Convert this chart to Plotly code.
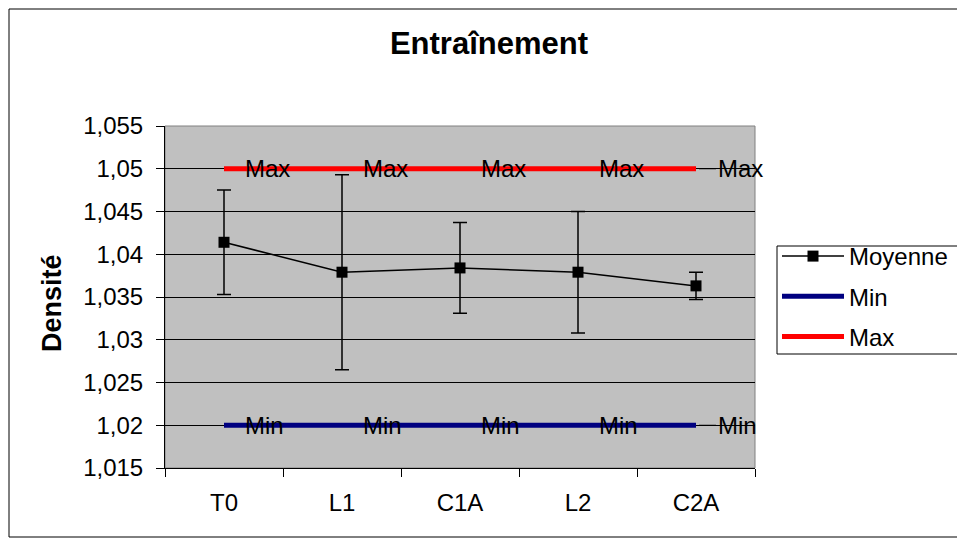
import plotly.graph_objects as go

# Données
categories = ["T0", "L1", "C1A", "L2", "C2A"]
moyenne = [1.0414, 1.0379, 1.0384, 1.0379, 1.0363]
ecart = [0.0061, 0.0114, 0.0053, 0.0071, 0.0016]
min_vals = [1.02, 1.02, 1.02, 1.02, 1.02]
max_vals = [1.05, 1.05, 1.05, 1.05, 1.05]
ytick_vals = [1.015, 1.02, 1.025, 1.03, 1.035, 1.04, 1.045, 1.05, 1.055]
ytick_text = ["1,015", "1,02", "1,025", "1,03", "1,035", "1,04", "1,045", "1,05", "1,055"]

FONT = "Liberation Sans, Arial, sans-serif"
TXT = 24
W, H = 957, 547
L, R, T, B = 165, 202, 126, 79
PW, PH = W - L - R, H - T - B


def px_x(px):
    return (px - L) / PW


def px_y(py):
    return (H - B - py) / PH


fig = go.Figure()

fig.add_trace(go.Scatter(
    x=categories, y=moyenne, name="Moyenne", mode="lines+markers",
    line=dict(color="black", width=1.5),
    marker=dict(symbol="square", size=11, color="black"),
    error_y=dict(type="data", array=ecart, visible=True,
                 color="black", thickness=1.5, width=7),
    legendgroup="a",
))
fig.add_trace(go.Scatter(
    x=categories, y=min_vals, name="Min", mode="lines",
    line=dict(color="#000080", width=5), legendgroup="b",
))
fig.add_trace(go.Scatter(
    x=categories, y=max_vals, name="Max", mode="lines",
    line=dict(color="#FF0000", width=5), legendgroup="c",
))

annotations = []
for label, vals in (("Min", min_vals), ("Max", max_vals)):
    for i, (c, v) in enumerate(zip(categories, vals)):
        last = i == len(categories) - 1
        annotations.append(dict(
            x=c, y=v, xref="x", yref="y", text=label,
            xanchor="left", yanchor="middle",
            showarrow=last, arrowhead=0, arrowwidth=1, arrowcolor="black",
            ax=20 if last else 0, ay=0, standoff=3,
            xshift=0 if last else 19,
            font=dict(family=FONT, size=TXT, color="black"),
        ))

annotations.append(dict(
    x=px_x(52), y=px_y(303), xref="paper", yref="paper", text="<b>Densité</b>",
    textangle=-90, showarrow=False, xanchor="center", yanchor="middle",
    font=dict(family=FONT, size=27, color="black"),
))

shapes = [
    # cadre du graphique
    dict(type="rect", xref="paper", yref="paper",
         x0=px_x(9), x1=px_x(990), y0=px_y(537), y1=px_y(9),
         line=dict(color="black", width=1), layer="below"),
    # bordure de la zone de tracé
    dict(type="rect", xref="paper", yref="paper", x0=0, x1=1, y0=0, y1=1,
         line=dict(color="#808080", width=1), layer="below"),
    # cadre de la légende (se prolonge au-delà du bord droit)
    dict(type="rect", xref="paper", yref="paper",
         x0=px_x(777), x1=px_x(1000), y0=px_y(354), y1=px_y(246),
         line=dict(color="black", width=1), fillcolor="white", layer="above"),
]

fig.update_layout(
    width=W, height=H,
    margin=dict(l=L, r=R, t=T, b=B, autoexpand=False),
    paper_bgcolor="white", plot_bgcolor="#C0C0C0",
    separators=", ",
    font=dict(family=FONT, size=TXT, color="black"),
    title=dict(text="<b>Entraînement</b>", x=489 / W, y=1 - 43 / H,
               xanchor="center", yanchor="middle", xref="container", yref="container",
               font=dict(family=FONT, size=31, color="black")),
    xaxis=dict(type="category", tickson="boundaries", ticks="outside",
               ticklen=8, tickcolor="black", showline=True, linecolor="black",
               showgrid=False, ticklabelstandoff=13, range=[-0.5, 4.5],
               tickfont=dict(family=FONT, size=TXT)),
    yaxis=dict(range=[1.015, 1.055], tickvals=ytick_vals, ticktext=ytick_text,
               ticks="outside", ticklen=8, tickcolor="black", showline=True,
               linecolor="black", showgrid=True, gridcolor="black", gridwidth=1,
               zeroline=False, ticklabelstandoff=8,
               tickfont=dict(family=FONT, size=TXT)),
    legend=dict(x=px_x(777), y=px_y(234), xanchor="left", yanchor="top",
                borderwidth=0, bgcolor="rgba(0,0,0,0)",
                itemwidth=62, tracegroupgap=6,
                font=dict(family=FONT, size=TXT)),
    showlegend=True,
    annotations=annotations,
    shapes=shapes,
)

fig.write_html("out.html")
